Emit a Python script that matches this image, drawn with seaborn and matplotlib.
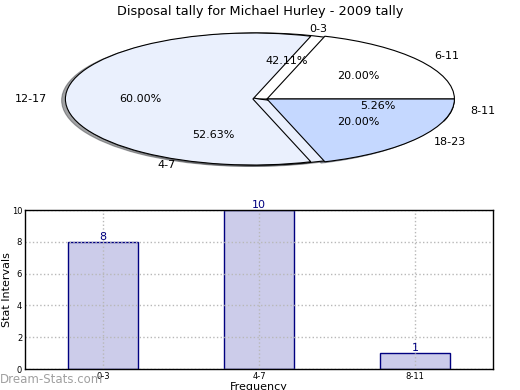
import numpy as np
import pandas as pd
import matplotlib
matplotlib.use('Agg')
import matplotlib.pyplot as plt
import seaborn as sns

# Disposal tally for 2009 (pie + bar chart)
intervals = ['0-3', '4-7', '8-11']
counts = [8, 10, 1]
explode = [0, 0, 0.043]

# second tally that ends up drawn over the same pie
old_intervals = ['6-11', '12-17', '18-23']
old_counts = [1, 3, 1]
old_explode = [0, 0.075, 0]

pie_colors = ['white', '#eaf0fd', '#c5d8ff']
bar_fill = '#ccccea'
bar_edge = '#000080'

sns.set_style('white')
plt.rcParams['font.family'] = ['DejaVu Sans']
plt.rcParams['text.color'] = 'black'
plt.rcParams['axes.labelcolor'] = 'black'
plt.rcParams['xtick.color'] = 'black'
plt.rcParams['ytick.color'] = 'black'

fig = plt.figure(figsize=(5.2, 3.9), dpi=100)

# ---- pie (squashed, aspect not equal) ----
ax_pie = fig.add_axes([0.0627, 0.5346, 0.9013, 0.4231])
wedge_kw = {'edgecolor': 'black', 'linewidth': 0.8}
# shadow offset is in data units * dpi/72 -> about -0.02 data units
shadow_kw = {'ox': -0.0144, 'oy': -0.0144}
ax_pie.pie(counts, labels=intervals, explode=explode, center=(-0.043, 0),
           autopct='%1.2f%%', colors=pie_colors, shadow=shadow_kw,
           wedgeprops=wedge_kw, textprops={'fontsize': 8})
ax_pie.pie(old_counts, labels=old_intervals, explode=old_explode, autopct='%1.2f%%',
           colors=pie_colors, shadow=shadow_kw, wedgeprops=wedge_kw,
           textprops={'fontsize': 8})
ax_pie.set_aspect('auto')
ax_pie.set_xlim(-1.25, 1.25)
ax_pie.set_ylim(-1.25, 1.25)

fig.suptitle('Disposal tally for Michael Hurley - 2009 tally', fontsize=9.3, y=0.988)

# ---- bar chart ----
ax_bar = fig.add_axes([0.048, 0.0538, 0.9, 0.4077])
df = pd.DataFrame({'interval': intervals, 'count': counts})
sns.barplot(data=df, x='interval', y='count', ax=ax_bar, color=bar_fill,
            saturation=1, width=0.45, edgecolor=bar_edge, linewidth=1)
ax_bar.bar_label(ax_bar.containers[0], color=bar_edge, fontsize=8, padding=0)

ax_bar.set_xlim(-0.5, 2.5)
ax_bar.set_ylim(0, 10)
ax_bar.set_yticks(range(0, 11, 2))
ax_bar.set_axisbelow(False)
ax_bar.grid(True, linestyle=':', color='#b8b8b8', linewidth=1)
ax_bar.tick_params(labelsize=6, direction='in', length=3, pad=2)
for sp in ax_bar.spines.values():
    sp.set_color('black')
    sp.set_linewidth(1)
    sp.set_zorder(3)
ax_bar.set_ylabel('Stat Intervals', fontsize=8)
ax_bar.yaxis.set_label_coords(-0.028, 0.5)
ax_bar.set_xlabel('Frequency', fontsize=8, labelpad=1)

fig.text(0.0, 0.026, 'Dream-Stats.com', color='#a0a0a0', fontsize=8.5, va='center')

fig.savefig('out.png', dpi=100)
